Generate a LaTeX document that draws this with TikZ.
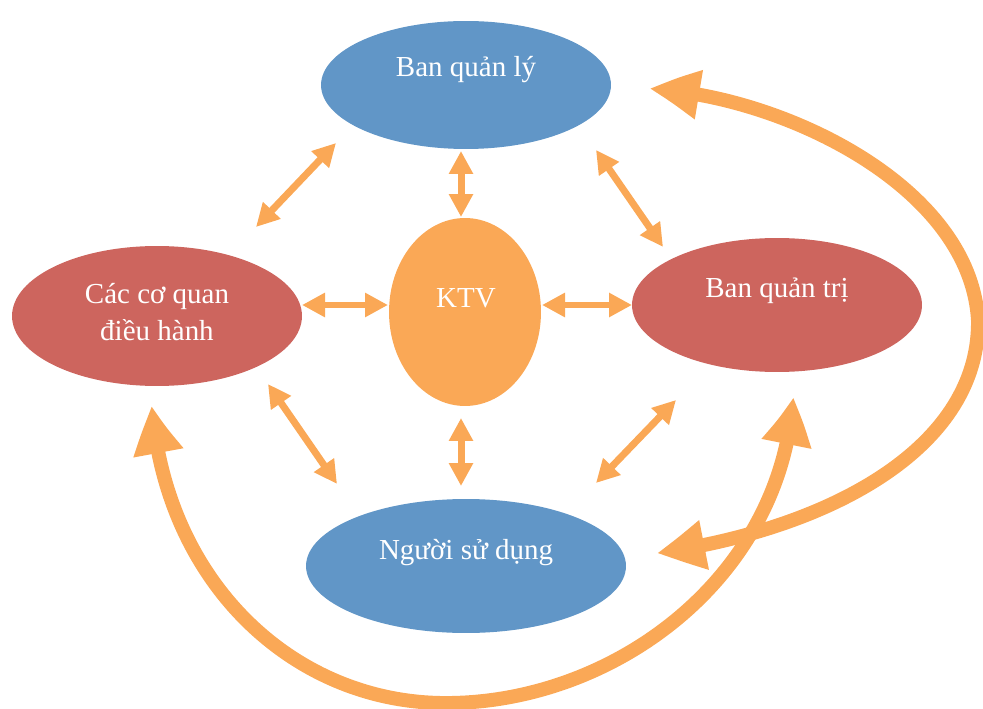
\documentclass[tikz,border=0pt]{standalone}
\usepackage{fontspec}
\setmainfont{Liberation Serif}
\usetikzlibrary{shapes.geometric,arrows.meta,bending}
\definecolor{cblue}{RGB}{97,150,199}
\definecolor{cred}{RGB}{205,101,94}
\definecolor{corange}{RGB}{250,168,86}
\begin{document}
\begin{tikzpicture}[x=0.02cm,y=-0.02cm,
  oval/.style={ellipse,inner sep=0pt,draw=none},
  lbl/.style={text=white,font=\fontsize{16.5}{21}\selectfont,align=center},
  link/.style={draw=corange,line width=0.14cm,
    {Triangle[length=0.46cm,width=0.46cm]}-{Triangle[length=0.46cm,width=0.46cm]}},
  loop/.style={draw=corange,line width=0.28cm,
    {Triangle[length=0.96cm,width=0.94cm,bend]}-{Triangle[length=0.96cm,width=0.94cm,bend]}}]
\useasboundingbox (0,0) rectangle (983,709);

% ellipses
\node[oval,fill=cblue,minimum width=5.8cm,minimum height=2.56cm] (bql) at (466,85) {};
\node[oval,fill=corange,minimum width=3.04cm,minimum height=3.76cm] (ktv) at (465,312) {};
\node[oval,fill=cred,minimum width=5.8cm,minimum height=2.68cm] (bqt) at (777,305) {};
\node[oval,fill=cred,minimum width=5.8cm,minimum height=2.8cm] (ccq) at (157,316) {};
\node[oval,fill=cblue,minimum width=6.4cm,minimum height=2.68cm] (nsd) at (466,566) {};

% labels
\node[lbl] (tbql) at (466,70) {Ban quản lý};
\node[lbl] (tktv) at (466,298) {KTV};
\node[lbl] (tbqt) at (777,291) {Ban quản trị};
\node[lbl] (tccq) at (157,312) {Các cơ quan\\điều hành};
\node[lbl] (tnsd) at (466,553) {Người sử dụng};

% arrow end points
\coordinate (a1) at (336,143); \coordinate (b1) at (256,227);
\coordinate (a2) at (461,151); \coordinate (b2) at (461,217);
\coordinate (a3) at (596,150); \coordinate (b3) at (663,247);
\coordinate (a4) at (302,305); \coordinate (b4) at (388,305);
\coordinate (a5) at (542,305); \coordinate (b5) at (632,305);
\coordinate (a6) at (268,384); \coordinate (b6) at (337,484);
\coordinate (a7) at (461,418); \coordinate (b7) at (461,486);
\coordinate (a8) at (676,400); \coordinate (b8) at (596,483);

\draw[link] (a1) -- (b1);
\draw[link] (a2) -- (b2);
\draw[link] (a3) -- (b3);
\draw[link] (a4) -- (b4);
\draw[link] (a5) -- (b5);
\draw[link] (a6) -- (b6);
\draw[link] (a7) -- (b7);
\draw[link] (a8) -- (b8);

% large loops
\coordinate (r1) at (650,89); \coordinate (rm) at (978,320); \coordinate (r2) at (657,553);
\coordinate (l1) at (152,406); \coordinate (lm) at (440,703); \coordinate (l2) at (793,397);
\draw[loop] (r1) .. controls (780,95) and (970,185) .. (rm)
  .. controls (980,450) and (825,530) .. (r2);
\draw[loop] (l1) .. controls (165,580) and (290,700) .. (lm)
  .. controls (610,706) and (782,580) .. (l2);
\end{tikzpicture}
\end{document}
